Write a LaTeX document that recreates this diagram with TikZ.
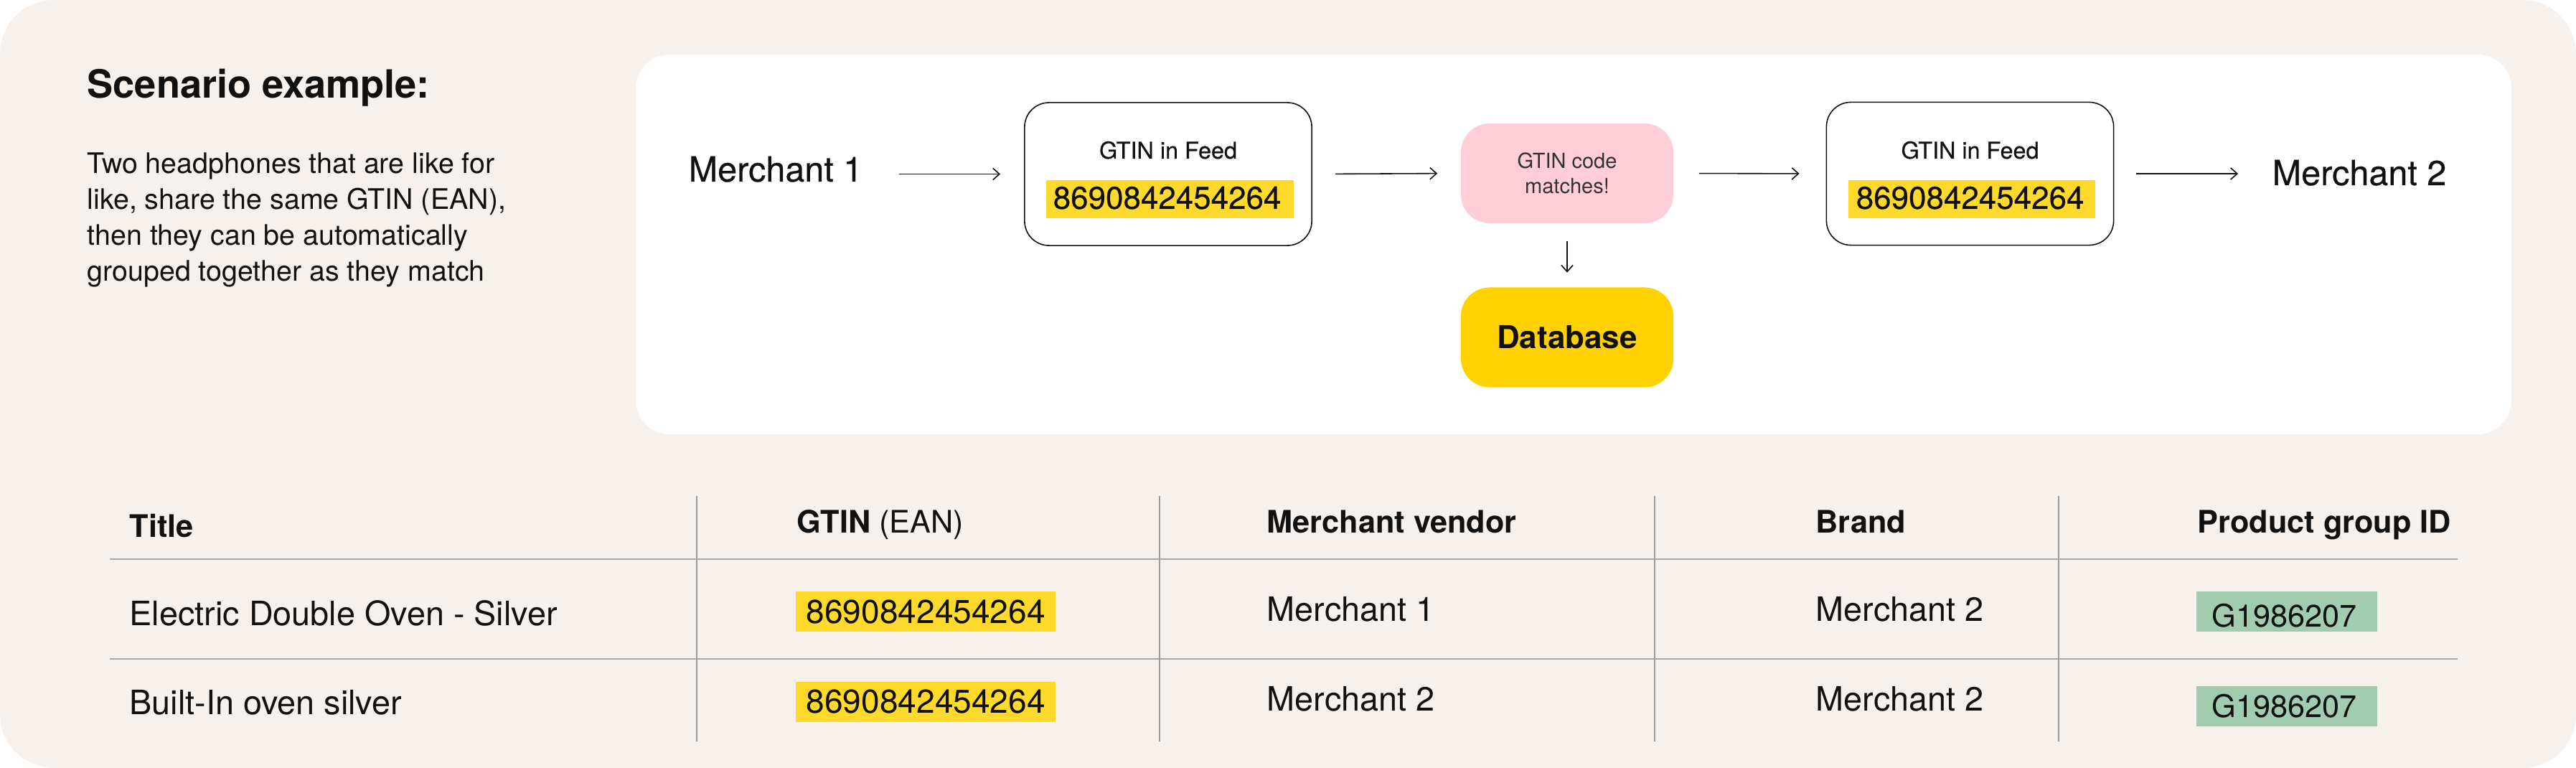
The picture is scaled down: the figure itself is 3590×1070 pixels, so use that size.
\documentclass[tikz,border=0pt]{standalone}
\usepackage{fontspec}
\setmainfont{TeX Gyre Heros}
\newfontfamily\medfont[FakeBold=0.35]{TeX Gyre Heros}
\usetikzlibrary{arrows.meta}
\definecolor{bg}{HTML}{F6F1ED}
\definecolor{hy}{HTML}{FFD92B}
\definecolor{db}{HTML}{FFD200}
\definecolor{pk}{HTML}{FFCED8}
\definecolor{gr}{HTML}{A1CCAE}
\definecolor{hrule}{HTML}{ABA7A4}
\definecolor{vrule}{HTML}{9E9B98}
\definecolor{ink}{HTML}{111111}
\definecolor{soft}{HTML}{333333}
\begin{document}
\begin{tikzpicture}[x=0.01cm,y=-0.01cm,
  txt/.style={inner sep=0pt, text=ink},
  conn/.style={draw=ink, line width=0.45pt, -{Straight Barb[length=2.6pt,width=4.6pt]}},
  feedbox/.style={draw=ink, line width=0.45pt, fill=white, rounded corners=0.34cm,
    minimum width=4cm, minimum height=1.99cm, inner sep=0pt},
  softbox/.style={rounded corners=0.40cm, minimum width=2.96cm, minimum height=1.39cm, inner sep=0pt},
  fbig/.style={font=\medfont\fontsize{13.8}{16}\selectfont},
  fsmall/.style={font=\medfont\fontsize{9.2}{11}\selectfont},
  fnum/.style={font=\medfont\fontsize{12.5}{15}\selectfont},
  thead/.style={txt, anchor=base west, font=\bfseries\fontsize{12.3}{15}\selectfont},
  tcell/.style={txt, anchor=base west, font=\fontsize{13.3}{16}\selectfont},
  tnum/.style={txt, anchor=base west, font=\fontsize{13.1}{16}\selectfont},
  tgid/.style={txt, anchor=base west, font=\fontsize{12.3}{15}\selectfont},
  hline/.style={draw=hrule, line width=0.57pt},
  vline/.style={draw=vrule, line width=0.33pt}]
\path[use as bounding box] (0,0) rectangle (3590,1070);
\fill[bg, rounded corners=0.75cm] (0,0) rectangle (3590,1070);
\fill[white, rounded corners=0.47cm] (886,76) rectangle (3500,605);

% left description
\node[txt, anchor=base west, font=\bfseries\fontsize{15.4}{18}\selectfont] (head) at (121,137) {Scenario example:};
\node[txt, anchor=north west, align=left, font=\fontsize{11.2}{14.2}\selectfont] (desc) at (121,212)
  {Two headphones that are like for\\like, share the same GTIN (EAN),\\then they can be automatically\\grouped together as they match};

% flow
\node[txt, anchor=base, fbig] (m1) at (1081,253) {Merchant 1};
\node[feedbox] (b1) at (1628,242.5) {};
\node[txt, anchor=base, fsmall] (b1t) at (1628,221) {GTIN in Feed};
\fill[hy] (1458,251) rectangle (1803,304);
\node[txt, anchor=base west, fnum] (b1n) at (1467,291) {8690842454264};

\node[softbox, fill=pk, text=soft, align=center, font=\fontsize{8.25}{10}\selectfont] (pk) at (2184,241.5) {GTIN code\\matches!};
\node[softbox, fill=db, text=ink, font=\bfseries\fontsize{12.5}{15}\selectfont] (db) at (2184,470) {Database};

\node[feedbox] (b2) at (2745.5,242) {};
\node[txt, anchor=base, fsmall] (b2t) at (2745.5,221) {GTIN in Feed};
\fill[hy] (2576,251) rectangle (2920,304);
\node[txt, anchor=base west, fnum] (b2n) at (2586,291) {8690842454264};

\node[txt, anchor=base, fbig] (m2) at (3288,258) {Merchant 2};

\draw[conn, shorten <=0.5cm, shorten >=0.33cm] (m1.east |- b1.west) -- (b1.west);
\draw[conn, shorten <=0.32cm, shorten >=0.32cm] (b1.east) -- (pk.west);
\draw[conn, shorten <=0.35cm, shorten >=0.37cm] (pk.east) -- (b2.west);
\draw[conn, shorten <=0.31cm, shorten >=0.47cm] (b2.east) -- (m2.west |- b2.east);
\draw[conn, shorten <=0.24cm, shorten >=0.20cm] (pk.south) -- (db.north);

% table
\draw[hline] (153,779) -- (3425,779);
\draw[hline] (153,918) -- (3425,918);
\foreach \xx in {971,1616,2306,2869} \draw[vline] (\xx,691) -- (\xx,1033);

\node[thead] (h1) at (180,748) {Title};
\node[thead] (h2) at (1110,742) {GTIN \mdseries(EAN)};
\node[thead] (h3) at (1765,742) {Merchant vendor};
\node[thead] (h4) at (2530,742) {Brand};
\node[thead] (h5) at (3062,742) {Product group ID};

\node[tcell] (r1a) at (180,871) {Electric Double Oven - Silver};
\fill[hy] (1109,824) rectangle (1471,880);
\node[tnum] (r1b) at (1123,868) {8690842454264};
\node[tcell] (r1c) at (1765,865) {Merchant 1};
\node[tcell] (r1d) at (2530,865) {Merchant 2};
\fill[gr] (3061,824) rectangle (3313,880);
\node[tgid] (r1e) at (3082,873) {G1986207};

\node[tcell] (r2a) at (180,995) {Built-In oven silver};
\fill[hy] (1109,950) rectangle (1471,1006);
\node[tnum] (r2b) at (1123,993) {8690842454264};
\node[tcell] (r2c) at (1765,990) {Merchant 2};
\node[tcell] (r2d) at (2530,990) {Merchant 2};
\fill[gr] (3061,956) rectangle (3313,1012);
\node[tgid] (r2e) at (3082,999) {G1986207};
\end{tikzpicture}
\end{document}
